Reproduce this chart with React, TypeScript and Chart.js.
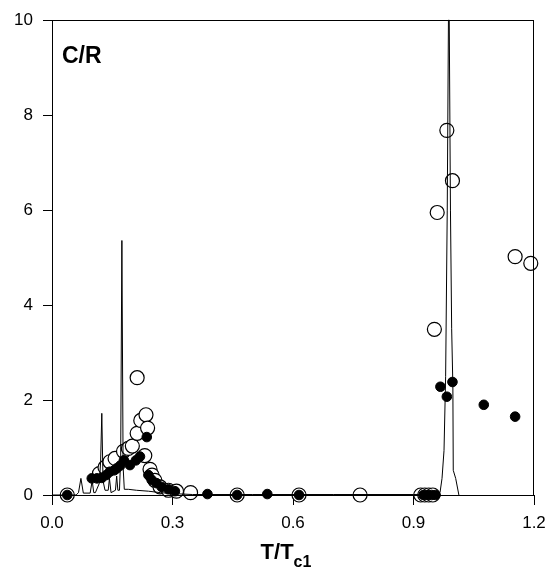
import React, { useEffect, useRef } from "react";
import { Chart, registerables } from "chart.js";
Chart.register(...registerables);

// Thin solid curve (calculated C/R)
const lineT = [0, 0.06, 0.066, 0.072, 0.078, 0.095, 0.1, 0.104, 0.108, 0.118, 0.121, 0.124, 0.127, 0.132, 0.14, 0.143, 0.147, 0.158, 0.161, 0.164, 0.168, 0.171, 0.174, 0.177, 0.18, 0.19, 0.21, 0.24, 0.27, 0.3, 0.35, 0.5, 0.7, 0.9, 0.955, 0.966, 0.971, 0.976, 0.98, 0.984, 0.987, 0.989, 0.992, 0.995, 0.998, 0.999, 1.005, 1.013];
const lineC = [0, 0, 0.05, 0.35, 0.04, 0.04, 0.3, 0.05, 0.05, 0.25, 0.7, 1.72, 0.3, 0.1, 0.1, 0.35, 0.05, 0.1, 0.4, 0.1, 0.1, 0.8, 5.36, 0.6, 0.12, 0.12, 0.1, 0.08, 0.05, 0.03, 0.01, 0.01, 0.01, 0.01, 0.02, 0.05, 0.35, 0.94, 2.5, 6, 10, 10, 6, 3.5, 2.3, 0.52, 0.35, 0];

// Open circles
const openT = [0.038, 0.118, 0.132, 0.144, 0.157, 0.178, 0.19, 0.2, 0.212, 0.212, 0.221, 0.231, 0.234, 0.238, 0.244, 0.249, 0.256, 0.269, 0.29, 0.31, 0.345, 0.461, 0.615, 0.767, 0.918, 0.928, 0.938, 0.948, 0.952, 0.959, 0.983, 0.997, 1.153, 1.192];
const openC = [0, 0.45, 0.58, 0.7, 0.77, 0.92, 0.98, 1.03, 1.3, 2.47, 1.57, 0.83, 1.69, 1.41, 0.54, 0.42, 0.31, 0.17, 0.1, 0.08, 0.05, 0, 0, 0, 0, 0, 0, 0, 3.49, 5.95, 7.68, 6.62, 5.02, 4.88];

// Filled circles
const filledT = [0.038, 0.099, 0.112, 0.124, 0.135, 0.144, 0.155, 0.161, 0.17, 0.179, 0.194, 0.209, 0.219, 0.236, 0.24, 0.248, 0.26, 0.273, 0.29, 0.306, 0.387, 0.461, 0.536, 0.615, 0.925, 0.935, 0.945, 0.955, 0.967, 0.983, 0.997, 1.075, 1.153];
const filledC = [0, 0.35, 0.35, 0.36, 0.42, 0.49, 0.52, 0.56, 0.62, 0.73, 0.63, 0.73, 0.81, 1.22, 0.42, 0.32, 0.25, 0.17, 0.12, 0.08, 0.02, 0, 0.02, 0, 0, 0, 0, 0, 2.28, 2.07, 2.38, 1.9, 1.65];

const xTicks = [0, 0.3, 0.6, 0.9, 1.2];
const yTicks = [0, 2, 4, 6, 8, 10];

const FONT = '"Liberation Sans", Arial, sans-serif';

export default function App() {
  const ref = useRef<HTMLCanvasElement>(null);
  useEffect(() => {
    document.body.style.margin = "0";
    const canvas = ref.current!;
    const pts = (xs: number[], ys: number[]) => xs.map((x, i) => ({ x, y: ys[i] }));

    const decor = {
      id: "decor",
      afterDraw(chart: any) {
        const { ctx, chartArea: a } = chart;
        ctx.save();
        ctx.strokeStyle = "#000";
        ctx.lineWidth = 1;
        ctx.strokeRect(Math.round(a.left) + 0.5, Math.round(a.top) + 0.5, Math.round(a.right - a.left) - 1, Math.round(a.bottom - a.top));
        // C/R label
        ctx.fillStyle = "#000";
        ctx.textBaseline = "alphabetic";
        ctx.textAlign = "left";
        ctx.font = `bold 23px ${FONT}`;
        ctx.fillText("C/R", 62, 63);
        // x title
        ctx.font = `bold 22px ${FONT}`;
        const w1 = ctx.measureText("T/T").width;
        ctx.font = `bold 16px ${FONT}`;
        const w2 = ctx.measureText("c1").width;
        const x0 = 286 - (w1 + w2) / 2;
        ctx.font = `bold 22px ${FONT}`;
        ctx.fillText("T/T", x0, 559);
        ctx.font = `bold 16px ${FONT}`;
        ctx.fillText("c1", x0 + w1, 567);
        ctx.restore();
      },
    };

    const chart = new Chart(canvas, {
      type: "scatter",
      data: {
        datasets: [
          {
            label: "calc",
            data: pts(lineT, lineC),
            showLine: true,
            borderColor: "#000",
            borderWidth: 1,
            pointRadius: 0,
            tension: 0,
            order: 0,
            clip: false,
          } as any,
          {
            label: "filled",
            data: pts(filledT, filledC),
            pointRadius: 4.8,
            pointBackgroundColor: "#000",
            pointBorderColor: "#000",
            pointBorderWidth: 1,
            order: 1,
            clip: false,
          } as any,
          {
            label: "open",
            data: pts(openT, openC),
            pointRadius: 7,
            pointBackgroundColor: "#fff",
            pointBorderColor: "#000",
            pointBorderWidth: 1.2,
            order: 2,
            clip: false,
          } as any,
        ],
      },
      options: {
        responsive: false,
        animation: false,
        layout: { padding: { top: 17, right: 20, left: 0, bottom: 0 } },
        plugins: { legend: { display: false }, tooltip: { enabled: false }, title: { display: false } },
        scales: {
          x: {
            type: "linear",
            min: 0,
            max: 1.2,
            afterBuildTicks: (s: any) => { s.ticks = xTicks.map((v) => ({ value: v })); },
            afterFit: (s: any) => { s.height = 75; },
            border: { display: false },
            grid: { drawOnChartArea: false, drawTicks: true, tickLength: 10, color: "#000", lineWidth: 1 },
            ticks: {
              color: "#000",
              padding: 8,
              maxRotation: 0,
              font: { family: FONT, size: 17 },
              callback: (v: any) => Number(v).toFixed(1),
            },
          },
          y: {
            type: "linear",
            min: 0,
            max: 10,
            afterBuildTicks: (s: any) => { s.ticks = yTicks.map((v) => ({ value: v })); },
            afterFit: (s: any) => { s.width = 52; },
            border: { display: false },
            grid: { drawOnChartArea: false, drawTicks: true, tickLength: 9, color: "#000", lineWidth: 1 },
            ticks: {
              color: "#000",
              padding: 10,
              font: { family: FONT, size: 17 },
              callback: (v: any) => String(v),
            },
          },
        },
      } as any,
      plugins: [decor],
    });
    return () => chart.destroy();
  }, []);
  return (
    <div style={{ width: 554, height: 570, position: "relative", background: "#fff" }}>
      <canvas ref={ref} width={554} height={570} style={{ width: 554, height: 570, display: "block" }} />
    </div>
  );
}
